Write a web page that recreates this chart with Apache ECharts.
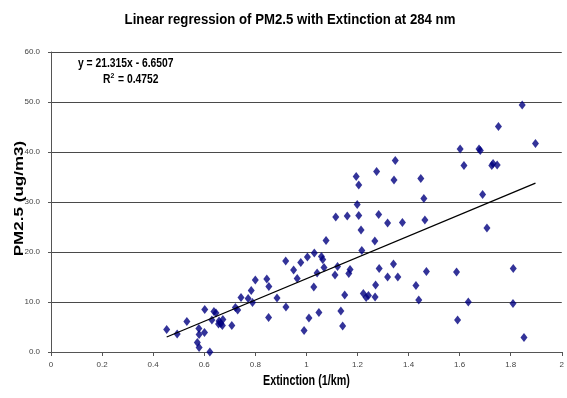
<!DOCTYPE html>
<html>
<head>
<meta charset="utf-8">
<script src="https://cdn.jsdelivr.net/npm/echarts@6/dist/echarts.min.js"></script>
<style>
  html, body { margin: 0; padding: 0; background: #fff; }
  #chart { width: 567px; height: 398px; }
</style>
</head>
<body>
<div id="chart"></div>
<script>
// Measured extinction (1/km) at 284 nm and matching PM2.5 mass (ug/m3)
const extinction = [
  0.453, 0.494, 0.532, 0.579, 0.580, 0.573, 0.580, 0.622, 0.601, 0.602,
  0.630, 0.638, 0.646, 0.658, 0.673, 0.665, 0.656, 0.671, 0.708, 0.722,
  0.731, 0.744, 0.772, 0.789, 0.784, 0.800, 0.845, 0.853, 0.852, 0.885,
  0.920, 0.919, 0.950, 0.964, 0.978, 0.991, 1.004, 1.010, 1.029, 1.031,
  1.042, 1.049, 1.059, 1.064, 1.069, 1.077, 1.112, 1.115, 1.122, 1.135,
  1.142, 1.150, 1.160, 1.166, 1.171, 1.195, 1.205, 1.199, 1.205, 1.214,
  1.217, 1.223, 1.234, 1.243, 1.269, 1.271, 1.268, 1.275, 1.283, 1.285,
  1.318, 1.318, 1.341, 1.343, 1.348, 1.358, 1.376, 1.429, 1.440, 1.448,
  1.460, 1.464, 1.470, 1.588, 1.592, 1.602, 1.617, 1.634, 1.676, 1.681,
  1.690, 1.707, 1.726, 1.731, 1.747, 1.752, 1.810, 1.809, 1.845, 1.852,
  1.897
];
const pm25 = [
  4.5, 3.6, 6.1, 4.7, 3.5, 1.9, 0.9, 0.0, 3.9, 8.5,
  6.4, 8.1, 7.8, 6.2, 6.5, 5.7, 5.6, 5.3, 5.3, 8.9,
  8.4, 10.9, 10.7, 9.9, 12.3, 14.4, 14.6, 13.1, 6.9, 10.8,
  9.0, 18.2, 16.4, 14.7, 17.9, 4.3, 19.0, 6.8, 13.0, 19.8,
  15.8, 7.9, 19.1, 18.5, 16.9, 22.3, 15.4, 27.0, 17.1, 8.2,
  5.2, 11.4, 27.2, 15.7, 16.5, 35.1, 33.4, 29.5, 27.3, 24.4,
  20.3, 11.7, 10.9, 11.3, 11.0, 13.4, 22.2, 36.1, 27.5, 16.7,
  15.0, 25.8, 17.6, 34.4, 38.3, 15.0, 25.9, 13.3, 10.4, 34.7,
  30.7, 26.4, 16.1, 16.0, 6.4, 40.6, 37.3, 10.0, 40.6, 40.3,
  31.5, 24.8, 37.3, 37.7, 37.4, 45.1, 16.7, 9.7, 49.4, 2.9,
  41.7
];

// Least-squares fit reported on the chart
const slope = 21.315;
const intercept = -6.6507;
const rSquared = 0.4752;

// Axis ranges and tick steps
const xTicks = { min: 0, max: 2, step: 0.2 };
const yTicks = { min: 0, max: 60, step: 10 };

const chartTitle = 'Linear regression of PM2.5 with Extinction at 284 nm';
const xName = 'Extinction (1/km)';
const yName = 'PM2.5 (ug/m3)';

const sans = '"Liberation Sans", Arial, sans-serif';

const points = extinction.map((x, i) => [x, pm25[i]]);
const xLo = Math.min(...extinction);
const xHi = Math.max(...extinction);
const fitLine = [[xLo, slope * xLo + intercept], [xHi, slope * xHi + intercept]];

const chart = echarts.init(document.getElementById('chart'), null, { renderer: 'canvas' });
chart.setOption({
  animation: false,
  backgroundColor: '#ffffff',
  grid: { left: 51, right: 5, top: 52, bottom: 46, containLabel: false },
  xAxis: {
    type: 'value',
    min: xTicks.min, max: xTicks.max, interval: xTicks.step,
    axisLine: { show: true, lineStyle: { color: '#555', width: 1 } },
    axisTick: { show: true, length: 4, lineStyle: { color: '#555' } },
    axisLabel: {
      fontFamily: sans, fontSize: 8, color: '#444', margin: 9,
      formatter: v => String(+v.toFixed(1))
    },
    splitLine: { show: false }
  },
  yAxis: {
    type: 'value',
    min: yTicks.min, max: yTicks.max, interval: yTicks.step,
    axisLine: { show: true, lineStyle: { color: '#555', width: 1 } },
    axisTick: { show: true, length: 3, lineStyle: { color: '#555' } },
    axisLabel: {
      fontFamily: sans, fontSize: 8, color: '#444', margin: 11,
      formatter: v => v.toFixed(1)
    },
    splitLine: { show: true, lineStyle: { color: '#4a4a4a', width: 1 } }
  },
  series: [
    {
      type: 'scatter',
      data: points,
      symbol: 'diamond',
      symbolSize: [7, 9],
      itemStyle: { color: '#000080' },
      z: 2
    },
    {
      type: 'line',
      data: fitLine,
      showSymbol: false,
      symbol: 'none',
      lineStyle: { color: '#000', width: 1.3 },
      silent: true,
      z: 3
    }
  ],
  graphic: [
    {
      type: 'text', x: 290, y: 20, scaleX: 0.88,
      style: {
        text: chartTitle, font: 'bold 15px ' + sans, fill: '#000',
        textAlign: 'center', textVerticalAlign: 'middle'
      }
    },
    {
      type: 'text', x: 306.5, y: 381, scaleX: 0.77,
      style: {
        text: xName, font: 'bold 14px ' + sans, fill: '#000',
        textAlign: 'center', textVerticalAlign: 'middle'
      }
    },
    {
      type: 'text', x: 20, y: 198.5, rotation: Math.PI / 2, scaleX: 1.42,
      style: {
        text: yName, font: 'bold 12px ' + sans, fill: '#000',
        textAlign: 'center', textVerticalAlign: 'middle'
      }
    },
    {
      type: 'text', x: 78, y: 63.5, scaleX: 0.86,
      style: {
        text: 'y = ' + slope + 'x - ' + Math.abs(intercept),
        font: 'bold 12px ' + sans, fill: '#000',
        textAlign: 'left', textVerticalAlign: 'middle'
      }
    },
    {
      type: 'text', x: 103, y: 78.5, scaleX: 0.86,
      style: {
        text: '{b|R}{s|2}{b| = ' + rSquared + '}',
        textAlign: 'left', textVerticalAlign: 'middle',
        rich: {
          b: { font: 'bold 12px ' + sans, fill: '#000', verticalAlign: 'bottom' },
          s: { font: 'bold 8px ' + sans, fill: '#000', verticalAlign: 'top', padding: [0, 1, 6, 0] }
        }
      }
    }
  ]
});
</script>
</body>
</html>
